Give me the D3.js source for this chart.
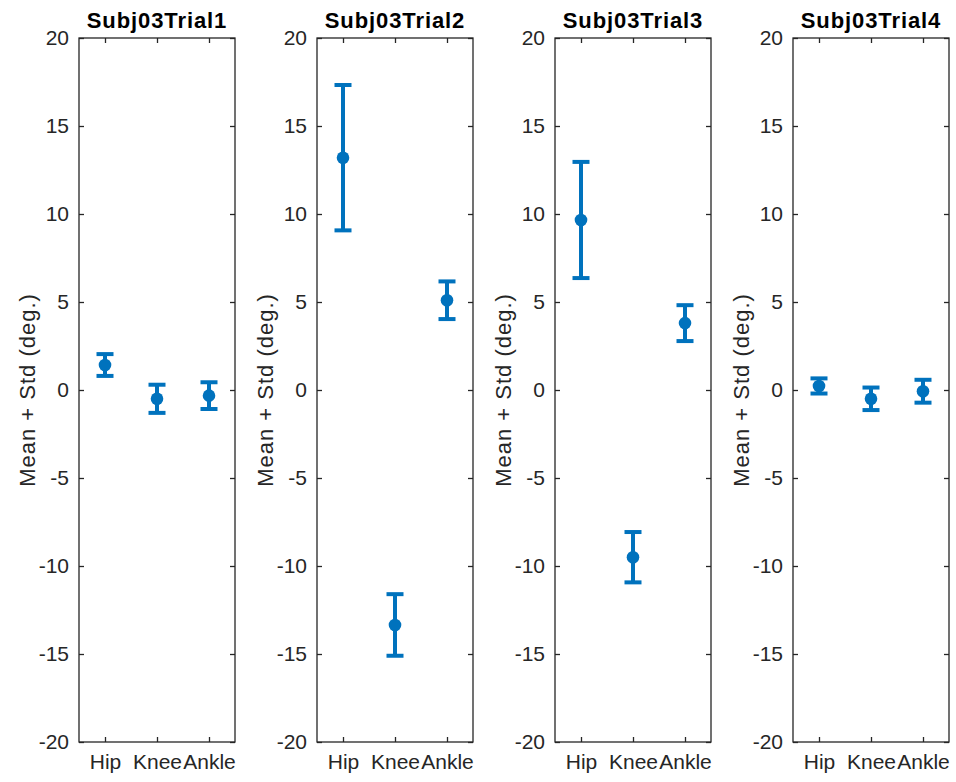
<!DOCTYPE html>
<html><head><meta charset="utf-8">
<script src="https://cdn.jsdelivr.net/npm/d3@7"></script>
<style>body{margin:0;background:#fff}svg{display:block}</style>
</head><body>
<script>
const joints = ["Hip", "Knee", "Ankle"];
const trials = ["Subj03Trial1", "Subj03Trial2", "Subj03Trial3", "Subj03Trial4"];
const means = [
  [1.42, -0.50, -0.32],
  [13.2, -13.35, 5.1],
  [9.66, -9.5, 3.8],
  [0.23, -0.50, -0.07]
];
const stds = [
  [0.62, 0.80, 0.76],
  [4.13, 1.75, 1.07],
  [3.30, 1.43, 1.02],
  [0.43, 0.64, 0.65]
];
const yTicks = [-20, -15, -10, -5, 0, 5, 10, 15, 20];
const yLabel = "Mean + Std (deg.)";

(function () {
const W = 956, H = 782;
const panelLefts = [79, 317, 555, 793];
const panelW = 156, plotTop = 38, plotBottom = 742;
const blue = "#0072BD", axCol = "#262626";
const font = "'Liberation Sans', Arial, sans-serif";

const svg = d3.select("body").append("svg").attr("width", W).attr("height", H);
const y = d3.scaleLinear().domain([-20, 20]).range([plotBottom, plotTop]);

trials.forEach((t, i) => {
  const x0 = panelLefts[i];
  const x = d3.scaleLinear().domain([0.5, 3.5]).range([x0, x0 + panelW]);
  const g = svg.append("g");

  g.append("rect").attr("x", x0).attr("y", plotTop).attr("width", panelW).attr("height", plotBottom - plotTop)
    .attr("fill", "none").attr("stroke", axCol).attr("stroke-width", 1.3);

  const yAx = g.append("g").attr("transform", `translate(${x0},0)`)
    .call(d3.axisLeft(y).tickValues(yTicks).tickSize(-5).tickPadding(10).tickFormat(d3.format("d")));
  yAx.select(".domain").remove();
  yAx.selectAll("line").attr("stroke", axCol).attr("stroke-width", 1.3);
  yAx.selectAll("text").attr("fill", axCol).style("font-family", font).style("font-size", "21px")
    .text(d => d < 0 ? "-" + Math.abs(d) : d);
  const yAxR = g.append("g").attr("transform", `translate(${x0 + panelW},0)`)
    .call(d3.axisRight(y).tickValues(yTicks).tickSize(-5).tickFormat(""));
  yAxR.select(".domain").remove();
  yAxR.selectAll("line").attr("stroke", axCol).attr("stroke-width", 1.3);

  const xAx = g.append("g").attr("transform", `translate(0,${plotBottom})`)
    .call(d3.axisBottom(x).tickValues([1, 2, 3]).tickSize(-5).tickPadding(12).tickFormat((d) => joints[d - 1]));
  xAx.select(".domain").remove();
  xAx.selectAll("line").attr("stroke", axCol).attr("stroke-width", 1.3);
  xAx.selectAll("text").attr("fill", axCol).style("font-family", font).style("font-size", "21px");
  const xAxT = g.append("g").attr("transform", `translate(0,${plotTop})`)
    .call(d3.axisTop(x).tickValues([1, 2, 3]).tickSize(-5).tickFormat(""));
  xAxT.select(".domain").remove();
  xAxT.selectAll("line").attr("stroke", axCol).attr("stroke-width", 1.3);

  g.append("text").attr("x", x0 + panelW / 2).attr("y", 28).attr("text-anchor", "middle")
    .style("font-family", font).style("font-size", "22px").style("font-weight", "bold")
    .style("letter-spacing", "0.9px")
    .attr("fill", "#000").text(t);

  g.append("text").attr("transform", `translate(${x0 - 52},${y(0)}) rotate(-90)`)
    .attr("text-anchor", "middle").attr("dominant-baseline", "central")
    .style("font-family", font).style("font-size", "22px").style("letter-spacing", "1px")
    .attr("fill", axCol).text(yLabel);

  const data = joints.map((j, k) => ({k: k + 1, m: means[i][k], s: stds[i][k]}));
  const eb = g.append("g");
  data.forEach(d => {
    const cx = x(d.k);
    eb.append("line").attr("x1", cx).attr("x2", cx).attr("y1", y(d.m + d.s)).attr("y2", y(d.m - d.s))
      .attr("stroke", blue).attr("stroke-width", 4);
    [d.m + d.s, d.m - d.s].forEach(v => {
      eb.append("line").attr("x1", cx - 8.5).attr("x2", cx + 8.5).attr("y1", y(v)).attr("y2", y(v))
        .attr("stroke", blue).attr("stroke-width", 4);
    });
    eb.append("circle").attr("cx", cx).attr("cy", y(d.m)).attr("r", 6.3).attr("fill", blue);
  });
});
})();
</script>
</body></html>
